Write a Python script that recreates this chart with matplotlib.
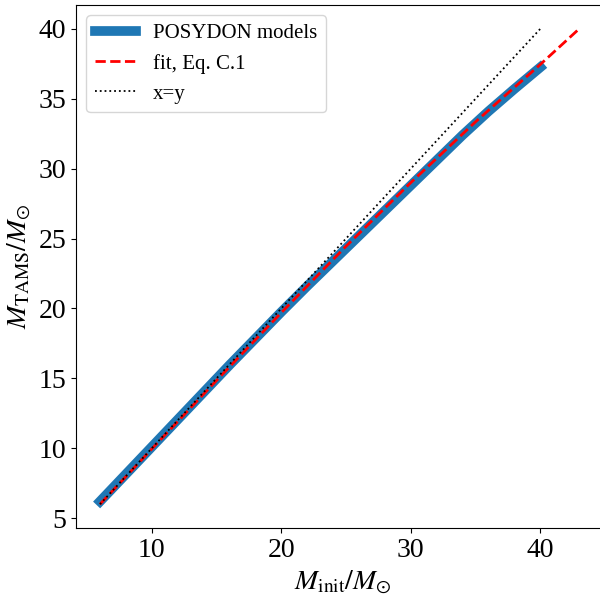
import matplotlib
matplotlib.use("Agg")
import matplotlib.pyplot as plt

plt.rcParams['font.family'] = 'Liberation Serif'
plt.rcParams['mathtext.fontset'] = 'stix'

# POSYDON single-star grid: initial mass vs mass at TAMS
m_init = [6, 8, 10, 12, 14, 16, 18, 20, 22, 24, 26, 28, 30, 32, 34, 36, 38, 40]
m_tams = [6.2, 8.15, 10.1, 12.05, 14.0, 15.95, 17.85, 19.75, 21.6, 23.4,
          25.2, 27.0, 28.8, 30.6, 32.4, 34.1, 35.7, 37.25]

# fit, Eq. C.1
fit_x = [6, 10, 15, 20, 25, 30, 35, 40, 43]
fit_y = [6.0, 9.95, 14.85, 19.7, 24.45, 29.0, 33.35, 37.45, 40.0]

diag = [6, 40]

fig = plt.figure(figsize=(6, 5.99), dpi=100)
ax = fig.add_axes([76 / 600, 71 / 599, 533 / 600, 523 / 599])

ax.plot(m_init, m_tams, lw=7, color='tab:blue', label='POSYDON models')
ax.plot(fit_x, fit_y, '--', lw=2, color='red', label='fit, Eq. C.1')
ax.plot(diag, diag, ':', lw=1.3, color='black', label='x=y')

ax.set_xlim(4.15, 45.3)
ax.set_xlabel(r'$M_{\rm init}/M_{\odot}$', fontsize=20)
ax.set_ylabel(r'$M_{\rm TAMS}/M_{\odot}$', fontsize=20)
ax.tick_params(labelsize=20)
ax.set_xticks([10, 20, 30, 40])
ax.set_yticks([5, 10, 15, 20, 25, 30, 35, 40])
ax.legend(loc='upper left', fontsize=15)

fig.savefig('out.png', dpi=100)
